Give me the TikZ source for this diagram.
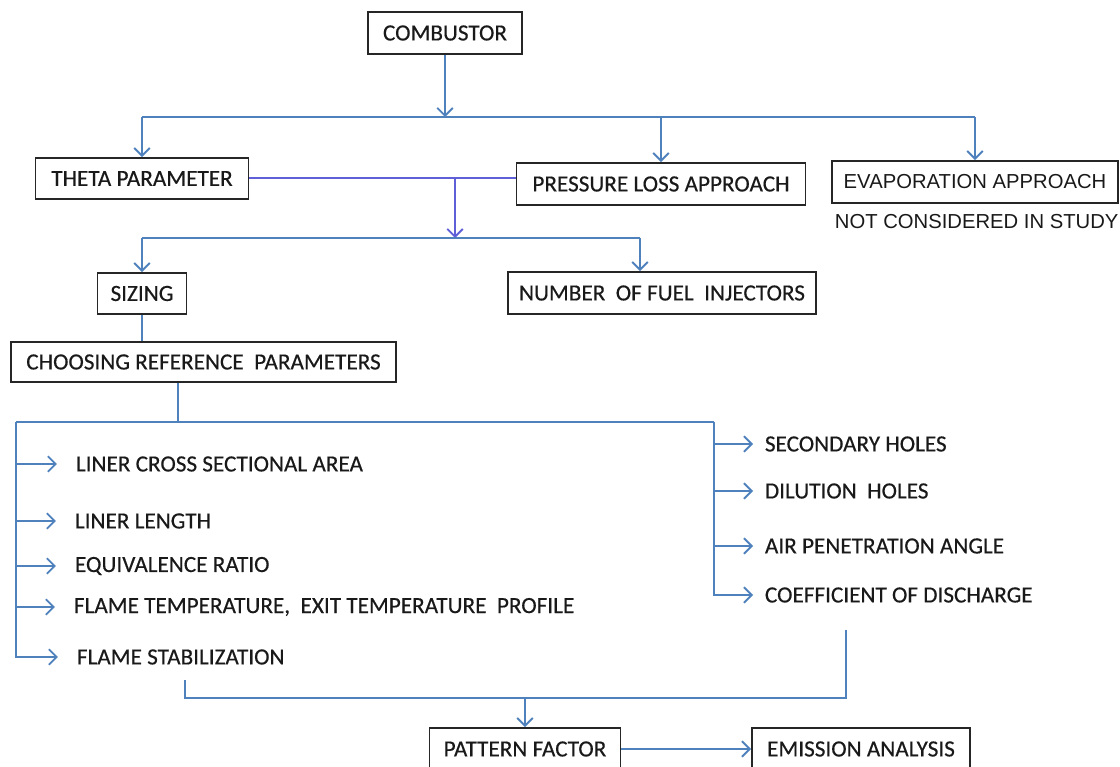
\documentclass[tikz,border=0pt]{standalone}
\usepackage{fontspec}
\setmainfont{Carlito}[FakeBold=0.4]
\newfontfamily\arialfont{Liberation Sans}
\usetikzlibrary{arrows.meta}
\definecolor{linkblue}{RGB}{79,129,189}
\definecolor{joinblue}{RGB}{95,95,215}

\begin{document}
\begin{tikzpicture}[x=0.025cm,y=-0.025cm,
  font=\fontsize{16.5}{19}\selectfont,
  >={Straight Barb[length=5.5pt,width=11pt]},
  linkblue,line width=1.35pt,
  box/.style={rectangle,draw=black!85,line width=1.35pt,text=black!90,inner sep=0pt,minimum height=1.05cm},
  item/.style={anchor=west,inner sep=0pt,text=black!90},
  arial/.style={font=\arialfont\fontsize{14.4}{17}\selectfont}]
\clip (0,0) rectangle (1120,767);

\path (445,33) node[box,minimum width=3.85cm] (comb) {COMBUSTOR};
\path (142,178.5) node[box,minimum width=5.325cm,minimum height=1.025cm] (theta) {THETA PARAMETER};
\path (661,184) node[box,minimum width=7.225cm] (press) {PRESSURE LOSS APPROACH};
\path (975,182) node[box,minimum width=7.15cm,arial] (evap) {EVAPORATION APPROACH};
\path (834,222) node[item,arial] (notcons) {NOT CONSIDERED IN STUDY};

\coordinate (split1) at (446,117);
\draw[->] (comb) -- (comb.south |- split1);
\draw (split1 -| theta) -- (split1 -| evap);
\draw[->] (split1 -| theta) -- (theta);
\draw[->] (split1 -| press) -- (press);
\draw[->] (split1 -| evap) -- (evap);

\path (142,293.5) node[box,minimum width=2.225cm,minimum height=1.025cm] (sizing) {SIZING};
\path (662,293) node[box,minimum width=7.7cm] (fuel) {NUMBER\ \ OF FUEL\ \ INJECTORS};
\path (203.5,362) node[box,minimum width=9.625cm,minimum height=1cm] (choose) {CHOOSING REFERENCE\ \ PARAMETERS};

\coordinate (join) at (455,178);
\coordinate (split2) at (455,238);
\coordinate (fuelin) at (640,238);
\draw[joinblue] (theta.east |- join) -- (press.west |- join);
\draw[->,joinblue] (join) -- (split2);
\draw (split2 -| sizing) -- (fuelin);
\draw[->] (split2 -| sizing) -- (sizing);
\draw[->] (fuelin) -- (fuelin |- fuel.north);
\draw (sizing.south) -- (sizing.south |- choose.north);

\path (75,464) node[item] (area) {LINER CROSS SECTIONAL AREA};
\path (74,521) node[item] (length) {LINER LENGTH};
\path (74,566) node[item] (ratio) {EQUIVALENCE RATIO};
\path (73,607) node[item] (temp) {FLAME TEMPERATURE,\ \ EXIT TEMPERATURE\ \ PROFILE};
\path (76,657) node[item] (stab) {FLAME STABILIZATION};

\path (764,444) node[item] (second) {SECONDARY HOLES};
\path (764,491) node[item] (dilut) {DILUTION\ \ HOLES};
\path (764,546) node[item] (angle) {AIR PENETRATION ANGLE};
\path (764,595) node[item] (disch) {COEFFICIENT OF DISCHARGE};

\coordinate (split3) at (178,422);
\coordinate (trunkL) at (16,422);
\coordinate (trunkR) at (714,422);
\draw (split3 |- choose.south) -- (split3);
\draw (trunkL) -- (trunkR);
\draw[->,shorten >=0.45cm] (trunkL) |- (stab.west);
\draw[->,shorten >=0.45cm] (trunkL |- area.west) -- (area.west);
\draw[->,shorten >=0.45cm] (trunkL |- length.west) -- (length.west);
\draw[->,shorten >=0.45cm] (trunkL |- ratio.west) -- (ratio.west);
\draw[->,shorten >=0.45cm] (trunkL |- temp.west) -- (temp.west);
\draw[->,shorten >=0.275cm] (trunkR) |- (disch.west);
\draw[->,shorten >=0.275cm] (trunkR |- second.west) -- (second.west);
\draw[->,shorten >=0.275cm] (trunkR |- dilut.west) -- (dilut.west);
\draw[->,shorten >=0.275cm] (trunkR |- angle.west) -- (angle.west);

\path (525,749) node[box,minimum width=4.775cm] (pattern) {PATTERN FACTOR};
\path (861,749) node[box,minimum width=5.45cm] (emis) {EMISSION ANALYSIS};

\coordinate (stabout) at (185,680);
\coordinate (holesout) at (846,630);
\coordinate (merge) at (846,698);
\draw (stabout) |- (merge) -- (holesout);
\draw[->] (merge -| pattern) -- (pattern);
\draw[->] (pattern) -- (emis);
\end{tikzpicture}
\end{document}
